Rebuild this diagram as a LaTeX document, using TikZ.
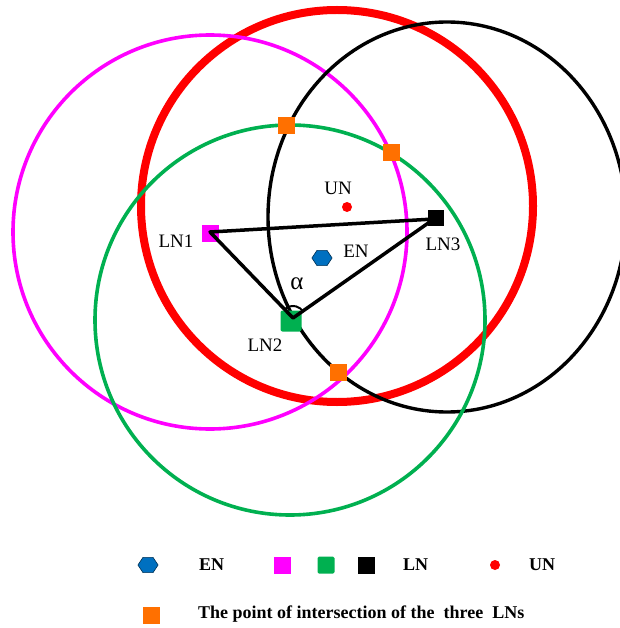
\documentclass[tikz,border=0pt]{standalone}
\usepackage{fontspec}
\setmainfont{Liberation Serif}
\usetikzlibrary{shapes.geometric}
\definecolor{lngreen}{RGB}{0,176,80}
\definecolor{lnmagenta}{RGB}{255,0,255}
\definecolor{crossorange}{RGB}{255,112,0}
\definecolor{enblue}{RGB}{0,112,192}
\tikzset{
  ring/.style={line width=3.6pt},
  lnbox/.style={
    rectangle,
    inner sep=0pt,
    minimum size=17pt
  },
  crossbox/.style={
    lnbox,
    fill=crossorange
  },
  undot/.style={
    circle,
    fill=red,
    inner sep=0pt,
    minimum size=10pt
  },
  enhex/.style={
    regular polygon,
    regular polygon sides=6,
    draw=enblue!45!black,
    fill=enblue,
    line width=0.6pt,
    inner sep=0pt,
    minimum size=17.5pt,
    xscale=1.15
  },
  lbl/.style={
    inner sep=0pt,
    font=\fontsize{19}{22}\selectfont
  },
  legend/.style={
    inner sep=0pt,
    anchor=west,
    font=\fontsize{18}{21}\selectfont\bfseries
  },
  side/.style={
    line width=3.5pt,
    line join=round
  }
}

\begin{document}
\begin{tikzpicture}[x=1pt,y=-1pt]
\useasboundingbox[fill=white] (0,0) rectangle (619,628);

% ranges of the three LNs
\draw[ring,red,line width=8pt] (337,206) circle[radius=196];
\draw[ring,lnmagenta] (210,232) circle[radius=197];
\draw[ring,black,line width=3.4pt] (447,217) ellipse[x radius=179,y radius=195];
\draw[ring,lngreen] (290,320) circle[radius=195];

% nodes
\node[lnbox,fill=lnmagenta] (ln1) at (210,233) {};
\node[lnbox,fill=black,minimum size=16pt] (ln3) at (436,218) {};
\node[lnbox,fill=lngreen,minimum size=21pt,rounded corners=2pt] (ln2) at (291,321) {};
\node[undot] (un) at (347,207) {};
\node[enhex] (en) at (322,258) {};

\coordinate (v1) at (210,232);
\coordinate (v2) at (293,318);
\coordinate (v3) at (434,219);
\draw[side] (v1) -- (v3) -- (v2) -- cycle;
\draw[line width=2pt] ([shift={(-134:12)}]v2) arc[start angle=-134,end angle=-35,radius=12];

\node[crossbox] (p1) at (286,126) {};
\node[crossbox] (p2) at (391,153) {};
\node[crossbox] (p3) at (338,372) {};

\node[lbl] (ln1lbl) at (176,241) {LN1};
\node[lbl] (ln2lbl) at (265,345) {LN2};
\node[lbl] (ln3lbl) at (443,244) {LN3};
\node[lbl] (unlbl) at (338,188) {UN};
\node[lbl] (enlbl) at (356,251) {EN};
\node[lbl,font=\fontsize{25}{28}\selectfont] (alpha) at (297,284) {α};

% legend
\node[enhex] (keyen) at (148,565) {};
\node[legend] (keyenlbl) at (199,565) {EN};
\node[lnbox,fill=lnmagenta] (keyln1) at (282,565) {};
\node[lnbox,fill=lngreen,rounded corners=1.5pt] (keyln2) at (326,565) {};
\node[lnbox,fill=black] (keyln3) at (366,565) {};
\node[legend] (keylnlbl) at (403,565) {LN};
\node[undot] (keyun) at (495,565) {};
\node[legend] (keyunlbl) at (529,565) {UN};
\node[crossbox] (keyp) at (151,615) {};
\node[legend] (keyplbl) at (198,614) {The point of intersection of the~ three~ LNs};
\end{tikzpicture}
\end{document}
